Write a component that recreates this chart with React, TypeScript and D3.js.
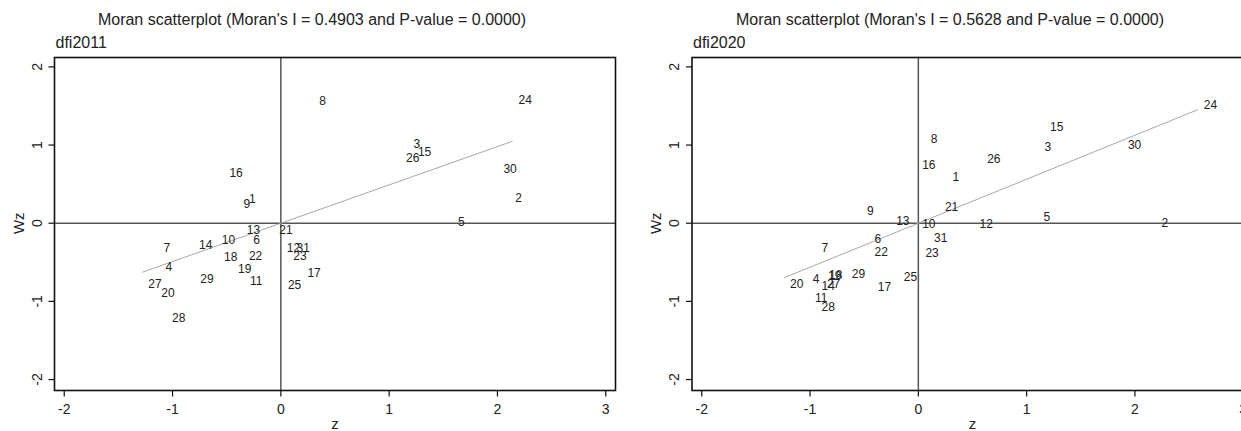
import React, { useEffect, useRef } from 'react';
import * as d3 from 'd3';

// ids of the 31 regions, same order in both years
const ids2011 = [16, 9, 1, 13, 21, 10, 6, 7, 14, 18, 22, 4, 19, 29, 11, 27, 20, 28, 12, 31, 23, 17, 25, 24, 3, 15, 26, 30, 2, 5, 8];
const z2011 = [-0.53, -0.40, -0.35, -0.37, -0.07, -0.60, -0.31, -1.14, -0.81, -0.58, -0.35, -1.12, -0.45, -0.80, -0.34, -1.28, -1.16, -1.06, 0.0, 0.09, 0.06, 0.19, 0.01, 2.14, 1.17, 1.21, 1.10, 2.0, 2.11, 1.58, 0.30];
const wz2011 = [0.65, 0.25, 0.31, -0.08, -0.08, -0.21, -0.21, -0.31, -0.28, -0.43, -0.42, -0.56, -0.58, -0.71, -0.74, -0.78, -0.89, -1.21, -0.31, -0.31, -0.42, -0.63, -0.79, 1.58, 1.01, 0.92, 0.84, 0.70, 0.33, 0.02, 1.57];

const ids2020 = [9, 13, 10, 21, 6, 31, 22, 23, 7, 29, 25, 17, 20, 4, 19, 18, 14, 27, 11, 28, 24, 15, 8, 3, 30, 16, 26, 1, 5, 12, 2];
const z2020 = [-0.53, -0.26, -0.02, 0.19, -0.46, 0.09, -0.46, 0.01, -0.95, -0.67, -0.19, -0.43, -1.24, -1.03, -0.89, -0.88, -0.95, -0.90, -1.01, -0.95, 2.58, 1.16, 0.06, 1.11, 1.88, -0.02, 0.58, 0.26, 1.10, 0.51, 2.19];
const wz2020 = [0.16, 0.03, -0.01, 0.21, -0.20, -0.19, -0.37, -0.38, -0.31, -0.65, -0.68, -0.81, -0.78, -0.71, -0.67, -0.66, -0.80, -0.78, -0.95, -1.07, 1.51, 1.23, 1.08, 0.98, 1.0, 0.75, 0.82, 0.60, 0.08, -0.01, 0.0];

const xTicks = [-2, -1, 0, 1, 2, 3];
const yTicks = [-2, -1, 0, 1, 2];

const panels = [
  { title: "Moran scatterplot (Moran's I = 0.4903 and P-value = 0.0000)", sub: 'dfi2011', moranI: 0.4903, ids: ids2011, z: z2011, wz: wz2011, left: 54.5, titleX: 312 },
  { title: "Moran scatterplot (Moran's I = 0.5628 and P-value = 0.0000)", sub: 'dfi2020', moranI: 0.5628, ids: ids2020, z: z2020, wz: wz2020, left: 692, titleX: 950 },
];

const FONT = '"Liberation Sans", Arial, sans-serif';

export default function App() {
  const ref = useRef<SVGSVGElement>(null);

  useEffect(() => {
    const svg = d3.select(ref.current);
    svg.selectAll('*').remove();
    svg.append('rect').attr('width', 1241).attr('height', 431).attr('fill', '#fff');

    panels.forEach((p) => {
      const g = svg.append('g');
      const top = 57.5;
      const bottom = 390.5;
      const x = d3.scaleLinear().domain([-2.09, 3.09]).range([p.left, p.left + 5.18 * 108.3]);
      const y = d3.scaleLinear().domain([-2.14, 2.12]).range([bottom, top]);

      // title + subtitle
      g.append('text')
        .attr('x', p.titleX).attr('y', 25)
        .attr('text-anchor', 'middle')
        .style('font-family', FONT).style('font-size', '16px')
        .attr('fill', '#222')
        .text(p.title);
      g.append('text')
        .attr('x', p.left + 1).attr('y', 48)
        .style('font-family', FONT).style('font-size', '16px')
        .attr('fill', '#222')
        .text(p.sub);

      // zero reference lines
      g.append('line')
        .attr('x1', x(0)).attr('x2', x(0)).attr('y1', top).attr('y2', bottom)
        .attr('stroke', '#555').attr('stroke-width', 1.5);
      g.append('line')
        .attr('x1', p.left).attr('x2', x(3.09)).attr('y1', y(0)).attr('y2', y(0))
        .attr('stroke', '#555').attr('stroke-width', 1.5);

      // fitted line, slope = Moran's I
      const ext = d3.extent(p.z) as [number, number];
      g.append('line')
        .attr('x1', x(ext[0])).attr('y1', y(ext[0] * p.moranI))
        .attr('x2', x(ext[1])).attr('y2', y(ext[1] * p.moranI))
        .attr('stroke', '#a8a8a8').attr('stroke-width', 1);

      // point labels (marker at z, label to the right)
      g.selectAll('text.lab').data(p.ids).enter()
        .append('text')
        .attr('class', 'lab')
        .attr('x', (d, i) => x(p.z[i]) + 6)
        .attr('y', (d, i) => y(p.wz[i]))
        .attr('dy', '0.35em')
        .style('font-family', FONT).style('font-size', '12px')
        .attr('fill', '#222')
        .text((d) => d);

      // box
      g.append('rect')
        .attr('x', p.left).attr('y', top)
        .attr('width', x(3.09) - p.left).attr('height', bottom - top)
        .attr('fill', 'none').attr('stroke', '#111').attr('stroke-width', 1.6);

      // x axis
      const xa = g.append('g').attr('transform', `translate(0,${bottom})`);
      xa.selectAll('line').data(xTicks).enter().append('line')
        .attr('x1', (d) => x(d)).attr('x2', (d) => x(d))
        .attr('y1', 0).attr('y2', 6)
        .attr('stroke', '#111').attr('stroke-width', 1.2);
      xa.selectAll('text').data(xTicks).enter().append('text')
        .attr('x', (d) => x(d)).attr('y', 23)
        .attr('text-anchor', 'middle')
        .style('font-family', FONT).style('font-size', '14px')
        .attr('fill', '#222')
        .text((d) => d);
      g.append('text')
        .attr('x', (x(-2.09) + x(3.09)) / 2).attr('y', 429)
        .attr('text-anchor', 'middle')
        .style('font-family', FONT).style('font-size', '15px')
        .attr('fill', '#222')
        .text('z');

      // y axis
      const ya = g.append('g').attr('transform', `translate(${p.left},0)`);
      ya.selectAll('line').data(yTicks).enter().append('line')
        .attr('x1', -6).attr('x2', 0)
        .attr('y1', (d) => y(d)).attr('y2', (d) => y(d))
        .attr('stroke', '#111').attr('stroke-width', 1.2);
      ya.selectAll('text').data(yTicks).enter().append('text')
        .attr('transform', (d) => `translate(-13,${y(d)}) rotate(-90)`)
        .attr('text-anchor', 'middle')
        .style('font-family', FONT).style('font-size', '14px')
        .attr('fill', '#222')
        .text((d) => d);
      g.append('text')
        .attr('transform', `translate(${p.left - 31},${y(0)}) rotate(-90)`)
        .attr('text-anchor', 'middle')
        .style('font-family', FONT).style('font-size', '15px')
        .attr('fill', '#222')
        .text('Wz');
    });
  }, []);

  return (
    <svg ref={ref} width={1241} height={431} style={{ position: 'absolute', left: 0, top: 0 }} />
  );
}
